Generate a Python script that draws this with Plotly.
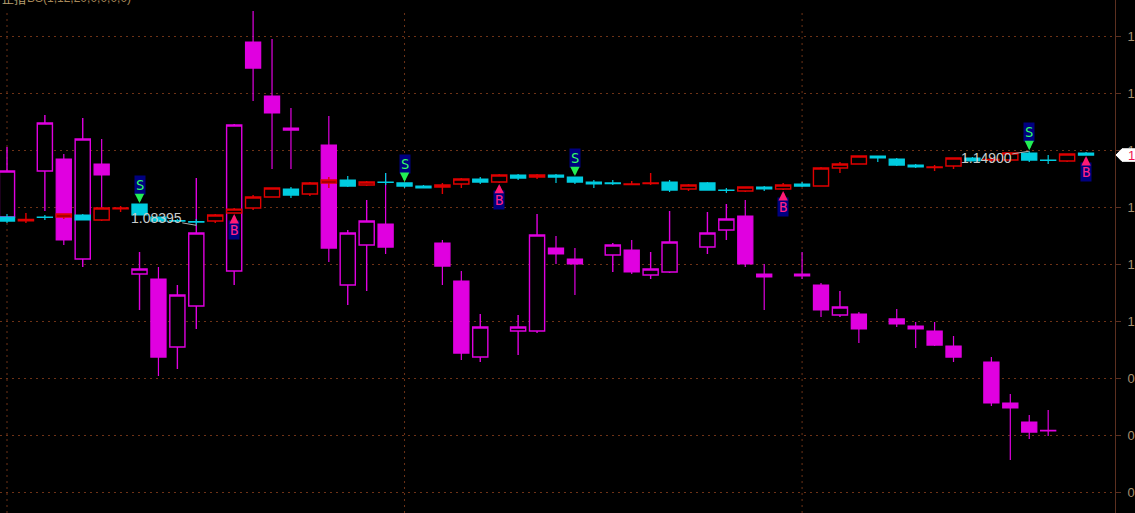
import plotly.graph_objects as go

# ---- main (large) candles; None = no bar drawn in that slot ----
main_open = [1.0912, None, 1.1316, 1.1421, 1.0544, 1.1377, None, 1.0412, 1.0368, 0.9772,
             1.0132, None, 1.0439, 1.2447, 1.1974, 1.1693, None, 1.1544, 1.0316, 1.0667,
             1.0851, None, None, 1.0684, 1.0351, 0.9684, None, 0.9912, 0.9912, 1.0640,
             1.0544, None, 1.0579, 1.0623, 1.0404, 1.0430, None, 1.0649, 1.0798, 1.0921,
             1.0412, None, 1.0412, 1.0316, 1.0053, 1.0061, None, 1.0018, 0.9956, 0.9912,
             0.9781, None, 0.9640, 0.9281, 0.9114, 0.9040, None, None]
main_high = [1.1526, None, 1.1807, 1.1465, 1.1781, 1.1597, None, 1.0605, 1.0474, 1.0316,
             1.1254, None, 1.1728, 1.2719, 1.2474, 1.1868, None, 1.1798, 1.0798, 1.1061,
             1.1298, None, None, 1.0711, 1.0439, 1.0061, None, 1.0053, 1.0938, 1.0746,
             1.0640, None, 1.0684, 1.0711, 1.0605, 1.0965, None, 1.0956, 1.1026, 1.1061,
             1.0500, None, 1.0605, 1.0333, 1.0263, 1.0079, None, 1.0105, 0.9991, 0.9991,
             0.9868, None, 0.9684, 0.9360, 0.9175, 0.9219, None, None]
main_low = [1.0904, None, 1.0965, 1.0667, 1.0474, 1.0991, None, 1.0097, 0.9518, 0.9579,
            0.9930, None, 1.0316, 1.1930, 1.1333, 1.1333, None, 1.0518, 1.0140, 1.0263,
            1.0588, None, None, 1.0316, 0.9658, 0.9640, None, 0.9702, 0.9895, 1.0500,
            1.0228, None, 1.0430, 1.0412, 1.0368, 1.0421, None, 1.0588, 1.0711, 1.0474,
            1.0097, None, 1.0368, 1.0035, 1.0035, 0.9807, None, 0.9947, 0.9763, 0.9781,
            0.9640, None, 0.9254, 0.8781, 0.8965, 0.8991, None, None]
main_close = [1.1316, None, 1.1737, 1.0711, 1.1597, 1.1281, None, 1.0456, 0.9684, 1.0228,
              1.0772, None, 1.1719, 1.2219, 1.1825, 1.1675, None, 1.0640, 1.0772, 1.0877,
              1.0649, None, None, 1.0482, 0.9719, 0.9947, None, 0.9947, 1.0754, 1.0588,
              1.0500, None, 1.0667, 1.0430, 1.0456, 1.0693, None, 1.0772, 1.0895, 1.0500,
              1.0386, None, 1.0395, 1.0097, 1.0123, 0.9930, None, 0.9974, 0.9930, 0.9789,
              0.9684, None, 0.9281, 0.9237, 0.9026, 0.9036, None, None]

# ---- BS indicator candles ----
bs_open = [1.0912, 1.0879, 1.0912, 1.0912, 1.0930, 1.0886, 1.0984, 1.1026, 1.0912, 1.0882,
           1.0873, 1.0877, 1.0947, 1.0991, 1.1088, 1.1158, 1.1114, 1.1211, 1.1237, 1.1193,
           1.1219, 1.1211, 1.1184, 1.1175, 1.1202, 1.1246, 1.1219, 1.1281, 1.1263, 1.1281,
           1.1263, 1.1219, 1.1211, 1.1197, 1.1206, 1.1219, 1.1158, 1.1211, 1.1149, 1.1140,
           1.1175, 1.1158, 1.1202, 1.1184, 1.1342, 1.1377, 1.1447, 1.1421, 1.1368, 1.1347,
           1.1360, 1.1430, 1.1412, 1.1412, 1.1474, 1.1412, 1.1404, 1.1474]
bs_high = [1.0939, 1.0947, 1.0930, 1.0939, 1.0939, 1.0991, 1.1009, 1.1026, 1.0912, 1.0895,
           1.0895, 1.0939, 1.0991, 1.1105, 1.1167, 1.1175, 1.1219, 1.1263, 1.1272, 1.1228,
           1.1298, 1.1211, 1.1193, 1.1211, 1.1254, 1.1263, 1.1289, 1.1289, 1.1289, 1.1289,
           1.1263, 1.1237, 1.1237, 1.1228, 1.1298, 1.1237, 1.1202, 1.1219, 1.1167, 1.1175,
           1.1184, 1.1211, 1.1219, 1.1351, 1.1395, 1.1447, 1.1447, 1.1430, 1.1377, 1.1368,
           1.1430, 1.1439, 1.1439, 1.1474, 1.1490, 1.1456, 1.1465, 1.1482]
bs_low = [1.0860, 1.0860, 1.0886, 1.0895, 1.0886, 1.0877, 1.0956, 1.0930, 1.0877, 1.0860,
          1.08395, 1.0860, 1.0947, 1.0974, 1.1088, 1.1079, 1.1096, 1.1167, 1.1175, 1.1184,
          1.1193, 1.1167, 1.1167, 1.1114, 1.1167, 1.1202, 1.1211, 1.1237, 1.1246, 1.1211,
          1.1202, 1.1167, 1.1193, 1.1193, 1.1193, 1.1132, 1.1140, 1.1149, 1.1123, 1.1132,
          1.1140, 1.1149, 1.1175, 1.1184, 1.1298, 1.1377, 1.1395, 1.1360, 1.1342, 1.1316,
          1.1333, 1.1404, 1.1395, 1.1395, 1.1395, 1.1377, 1.1395, 1.1456]
bs_close = [1.0877, 1.0890, 1.0908, 1.0939, 1.0886, 1.0991, 1.0991, 1.0930, 1.0877, 1.0877,
            1.0868, 1.0930, 1.0982, 1.1088, 1.1167, 1.1105, 1.1211, 1.1237, 1.1184, 1.1219,
            1.1215, 1.1184, 1.1167, 1.1193, 1.1246, 1.1219, 1.1281, 1.1254, 1.1281, 1.1263,
            1.1219, 1.1202, 1.1206, 1.1202, 1.1211, 1.1149, 1.1193, 1.1149, 1.1145, 1.1175,
            1.1158, 1.1193, 1.1184, 1.1342, 1.1377, 1.1447, 1.1430, 1.1368, 1.1351, 1.1351,
            1.1430, 1.1404, 1.1417, 1.1474, 1.1412, 1.1408, 1.1465, 1.1456]

sell_idx = [7, 21, 30, 54]
buy_idx = [12, 26, 41, 57]
period_starts = [0, 21, 42]
y_ticks = [0.85, 0.90, 0.95, 1.00, 1.05, 1.10, 1.15, 1.20, 1.25]
title_name = "止指"
title_params = "BS(1,12,20,0,0,0,0)"

x = list(range(len(bs_open)))

MAGENTA = "#E000E0"
RED = "#E00000"
CYAN = "#00CCE0"
GRID = "#6E3216"

fig = go.Figure()
fig.add_trace(go.Candlestick(
    x=x, open=main_open, high=main_high, low=main_low, close=main_close,
    increasing=dict(line=dict(color=MAGENTA, width=1.4), fillcolor="#000000"),
    decreasing=dict(line=dict(color=MAGENTA, width=1.2), fillcolor=MAGENTA),
    whiskerwidth=0, hoverinfo="skip", showlegend=False))
fig.add_trace(go.Candlestick(
    x=x, open=bs_open, high=bs_high, low=bs_low, close=bs_close,
    increasing=dict(line=dict(color=RED, width=1.4), fillcolor="#000000"),
    decreasing=dict(line=dict(color=CYAN, width=1.2), fillcolor=CYAN),
    whiskerwidth=0, hoverinfo="skip", showlegend=False))

for p in period_starts:
    fig.add_shape(type="line", xref="x", yref="paper", x0=p, x1=p, y0=0, y1=0.978,
                  line=dict(color=GRID, width=1, dash="2px,4px"), layer="below")

for i in sell_idx:
    fig.add_annotation(x=i, y=bs_high[i], text="S", showarrow=True, ax=0, ay=-19,
                       arrowhead=2, arrowsize=0.75, arrowwidth=2.5, arrowcolor="#22EE55", standoff=1,
                       font=dict(family="DejaVu Sans Mono", size=14, color="#33FF66"),
                       bgcolor="#000080", borderpad=1)
for i in buy_idx:
    fig.add_annotation(x=i, y=bs_low[i], text="B", showarrow=True, ax=0, ay=17,
                       arrowhead=2, arrowsize=0.75, arrowwidth=2.5, arrowcolor="#FF1A75", standoff=1,
                       font=dict(family="DejaVu Sans Mono", size=14, color="#FF2288"),
                       bgcolor="#000080", borderpad=1)

lo_i = min(x, key=lambda i: bs_low[i])
hi_i = max(x, key=lambda i: bs_high[i])
lab_font = dict(family="Liberation Sans Narrow, Liberation Sans, Arial", size=14, color="#C8CCCC")
fig.add_annotation(x=lo_i, y=bs_low[lo_i], text=f"{bs_low[lo_i]:.5f}", showarrow=True,
                   ax=-40, ay=-7, arrowhead=0, arrowwidth=1, arrowcolor="#B0B0B0",
                   font=lab_font, borderpad=0)
fig.add_annotation(x=hi_i, y=bs_high[hi_i], text=f"{bs_high[hi_i]:.5f}", showarrow=True,
                   ax=-43, ay=7, arrowhead=0, arrowwidth=1, arrowcolor="#B0B0B0",
                   font=lab_font, borderpad=0)

# title (mostly cut off at top, as in the original)
fig.add_annotation(xref="paper", yref="paper", x=0, y=1, xanchor="left", yanchor="middle",
                   text=title_name, showarrow=False, yshift=2,
                   font=dict(family="Noto Sans CJK SC", size=12, color="#B8A070"))
fig.add_annotation(xref="paper", yref="paper", x=25 / 1115, y=1, xanchor="left", yanchor="middle",
                   text=title_params, showarrow=False, yshift=2,
                   font=dict(family="Liberation Sans Narrow, Liberation Sans", size=12, color="#A88858"))

# last price marker
last = bs_close[-1]
PW = 1115.0
h = 0.0055
fig.add_shape(type="path", xref="paper", yref="y",
              path=(f"M {1116/PW},{last} L {1122/PW},{last + h} L {1145/PW},{last + h} "
                    f"L {1145/PW},{last - h} L {1122/PW},{last - h} Z"),
              fillcolor="#FFFFFF", line=dict(color="#FFFFFF", width=1), layer="above")
fig.add_annotation(xref="paper", yref="y", x=1126/PW, y=last, xanchor="left", yanchor="middle",
                   text=f"{last:.3f}", showarrow=False,
                   font=dict(family="Liberation Sans", size=13, color="#F01050"))

fig.update_layout(
    width=1135, height=513, autosize=False,
    margin=dict(l=0, r=20, t=0, b=0, pad=0, autoexpand=False),
    paper_bgcolor="#000000", plot_bgcolor="#000000",
    boxgap=0.2, boxgroupgap=0,
    hovermode=False,
    xaxis=dict(range=[-0.37, 58.53], rangeslider=dict(visible=False), showgrid=False,
               zeroline=False, showticklabels=False, ticks="", showline=False,
               automargin=False),
    yaxis=dict(side="right", range=[0.8316, 1.2816], tickvals=y_ticks,
               ticktext=[f"{v:.2f}" for v in y_ticks], automargin=False,
               showgrid=True, gridcolor=GRID, griddash="2px,4px", gridwidth=1,
               zeroline=False, showline=True, linecolor="#5C3020", linewidth=1,
               ticks="outside", ticklen=5, tickcolor="#5C3020", ticklabelstandoff=4,
               tickfont=dict(family="Liberation Sans", size=13, color="#A89070")),
)

fig.write_html("out.html", config={"displayModeBar": False, "responsive": False},
               post_script="document.body.style.margin='0';document.body.style.overflow='hidden';")
